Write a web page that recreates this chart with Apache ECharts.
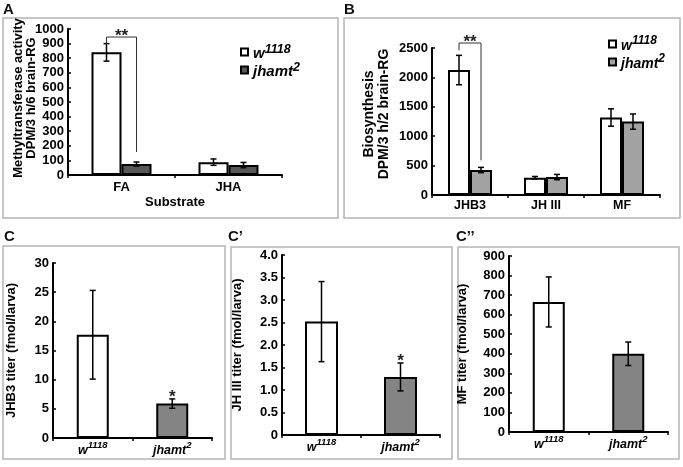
<!DOCTYPE html>
<html>
<head>
<meta charset="utf-8">
<script src="https://cdn.jsdelivr.net/npm/echarts@6/dist/echarts.min.js"></script>
<style>
html,body{margin:0;padding:0;background:#fff;}
#c{width:683px;height:467px;}
</style>
</head>
<body>
<div id="c"></div>
<script>
// ---------- data ----------
const substrates = ['FA', 'JHA'];
const activityW1118 = [840, 88];
const activityW1118Err = [60, 22];
const activityJhamt2 = [75, 68];
const activityJhamt2Err = [14, 18];

const compounds = ['JHB3', 'JH III', 'MF'];
const synthW1118 = [2125, 295, 1318];
const synthW1118Err = [250, 20, 148];
const synthJhamt2 = [425, 305, 1248];
const synthJhamt2Err = [45, 45, 130];

const genotypes = ['w1118', 'jhamt2'];
const titerJHB3 = [17.7, 5.9];
const titerJHB3Err = [7.6, 0.8];
const titerJHIII = [2.52, 1.29];
const titerJHIIIErr = [0.89, 0.31];
const titerMF = [665, 400];
const titerMFErr = [128, 60];

const yTicksA = {max: 1000, interval: 100};
const yTicksB = {max: 2500, interval: 500};
const yTicksC = {max: 30, interval: 5};
const yTicksC1 = {max: 4, interval: 0.5};
const yTicksC2 = {max: 900, interval: 100};

// significance annotations (bracket level in data units)
const sigA = {cat: 0, level: 945, text: '**'};
const sigB = {cat: 0, level: 2585, text: '**'};
const starC = {cat: 1, text: '*'};
const starC1 = {cat: 1, text: '*'};

// ---------- styles ----------
const FONT = '"Liberation Sans", Arial, Helvetica, sans-serif';
const BLACK = '#000';

const chart = echarts.init(document.getElementById('c'), null, {renderer: 'canvas'});

const grids = [
  {left: 68, top: 29, width: 214, height: 146},
  {left: 432, top: 48, width: 228, height: 147},
  {left: 53, top: 263, width: 159, height: 175},
  {left: 282, top: 255, width: 158, height: 180},
  {left: 509, top: 256, width: 159, height: 176}
];

const supRich = {
  i: {fontFamily: FONT, fontSize: 12.5, fontWeight: 'bold', fontStyle: 'italic', color: BLACK, lineHeight: 17, verticalAlign: 'bottom'},
  s: {fontFamily: FONT, fontSize: 9.5, fontWeight: 'bold', fontStyle: 'italic', color: BLACK, lineHeight: 10, verticalAlign: 'top'}
};
function genoLabel(name) {
  if (name.indexOf('w1118') >= 0) return '{i|w}{s|1118}';
  return '{i|jhamt}{s|2}';
}

function xAxisCfg(gi, cats, opts) {
  return Object.assign({
    type: 'category', gridIndex: gi, data: cats,
    axisLine: {lineStyle: {color: BLACK, width: 2}},
    axisTick: {show: true, length: 3, lineStyle: {color: BLACK, width: 1.5}},
    axisLabel: {color: BLACK, fontFamily: FONT, fontWeight: 'bold', fontSize: 13, margin: 6, interval: 0},
    splitLine: {show: false}
  }, opts || {});
}
function yAxisCfg(gi, t, name, gap, fs, lh, fmt, pad) {
  return {
    type: 'value', gridIndex: gi, min: 0, max: t.max, interval: t.interval,
    name: name, nameLocation: 'middle', nameGap: gap, nameRotate: 90, nameMoveOverlap: false,
    nameTextStyle: {color: BLACK, fontFamily: FONT, fontWeight: 'bold', fontSize: fs, lineHeight: lh, padding: pad || 0},
    axisLine: {show: true, lineStyle: {color: BLACK, width: 2}},
    axisTick: {show: true, inside: true, length: 3, lineStyle: {color: BLACK, width: 1.5}},
    axisLabel: {color: BLACK, fontFamily: FONT, fontWeight: 'bold', fontSize: 13, margin: 4,
      formatter: fmt || (v => String(v))},
    splitLine: {show: false}
  };
}

function barSeries(gi, name, data, color, width) {
  return {
    type: 'bar', name: name, xAxisIndex: gi, yAxisIndex: gi, data: data,
    barWidth: width, barGap: '0%',
    itemStyle: {color: color, borderColor: BLACK, borderWidth: 2},
    emphasis: {disabled: true}, silent: true
  };
}
function errSeries(gi, means, errs, offset) {
  return {
    type: 'custom', xAxisIndex: gi, yAxisIndex: gi, z: 10, silent: true,
    data: means.map((m, i) => [i, m, errs[i]]),
    encode: {x: 0, y: 1},
    renderItem: function (params, api) {
      const i = api.value(0), m = api.value(1), e = api.value(2);
      const p = api.coord([i, m + e]);
      const q = api.coord([i, m - e]);
      const x = p[0] + offset;
      const cap = 3;
      const st = {stroke: BLACK, lineWidth: 1.5};
      return {type: 'group', children: [
        {type: 'line', shape: {x1: x, y1: p[1], x2: x, y2: q[1]}, style: st},
        {type: 'line', shape: {x1: x - cap, y1: p[1], x2: x + cap, y2: p[1]}, style: st},
        {type: 'line', shape: {x1: x - cap, y1: q[1], x2: x + cap, y2: q[1]}, style: st}
      ]};
    }
  };
}
function bracketSeries(gi, sig, leftTop, rightTop, half, leftGap, rightGap) {
  return {
    type: 'custom', xAxisIndex: gi, yAxisIndex: gi, z: 11, silent: true, clip: false,
    data: [[sig.cat, sig.level, leftTop, rightTop]],
    encode: {x: 0, y: 1},
    renderItem: function (params, api) {
      const c = api.value(0);
      const top = api.coord([c, api.value(1)]);
      const lt = api.coord([c, api.value(2)]);
      const rt = api.coord([c, api.value(3)]);
      const xl = top[0] - half, xr = top[0] + half;
      return {type: 'group', children: [
        {type: 'polyline', shape: {points: [[xl, lt[1] - leftGap], [xl, top[1]], [xr, top[1]], [xr, rt[1] - rightGap]]},
          style: {stroke: '#333', lineWidth: 1, fill: null}},
        {type: 'text', x: top[0], y: top[1] - 1,
          style: {text: sig.text, fontFamily: FONT, fontWeight: 'bold', fontSize: 17, fill: '#222', align: 'center', verticalAlign: 'middle'}}
      ]};
    }
  };
}
function starSeries(gi, star, means, errs) {
  return {
    type: 'custom', xAxisIndex: gi, yAxisIndex: gi, z: 11, silent: true, clip: false,
    data: [[star.cat, means[star.cat] + errs[star.cat]]],
    encode: {x: 0, y: 1},
    renderItem: function (params, api) {
      const p = api.coord([api.value(0), api.value(1)]);
      return {type: 'text', x: p[0], y: p[1] - 2,
        style: {text: star.text, fontFamily: FONT, fontWeight: 'bold', fontSize: 17, fill: '#222', align: 'center', verticalAlign: 'middle'}};
    }
  };
}

const GRAY_A = '#575757';
const GRAY_B = '#a3a3a3';
const GRAY_C = '#848484';

function singleBars(vals) {
  return vals.map((v, i) => ({value: v, itemStyle: {color: i === 0 ? '#fff' : GRAY_C}}));
}

const genoAxisLabel = {
  color: BLACK, margin: 2, interval: 0, hideOverlap: false,
  formatter: v => genoLabel(v),
  rich: supRich
};

const boxStyle = {stroke: '#b4b4b4', lineWidth: 1.5, fill: 'none'};
const panelText = (x, y, t) => ({type: 'text', left: x, top: y,
  style: {text: t, fontFamily: FONT, fontWeight: 'bold', fontSize: 15, fill: '#111'}});

function legendRich(mainSize, supSize) {
  return {
    i: {fontFamily: FONT, fontSize: mainSize, fontWeight: 'bold', fontStyle: 'italic', color: BLACK, lineHeight: 18, verticalAlign: 'bottom'},
    s: {fontFamily: FONT, fontSize: supSize, fontWeight: 'bold', fontStyle: 'italic', color: BLACK, lineHeight: 12, verticalAlign: 'top'}
  };
}

const option = {
  animation: false,
  backgroundColor: '#fff',
  grid: grids,
  legend: [
    {left: 235, top: 38, orient: 'vertical', icon: 'rect', itemWidth: 7, itemHeight: 7, itemGap: 0,
      data: ['A:w1118', 'A:jhamt2'], selectedMode: false,
      formatter: genoLabel, textStyle: {rich: legendRich(15, 12.5)}},
    {left: 603, top: 30, orient: 'vertical', icon: 'rect', itemWidth: 7, itemHeight: 7, itemGap: 0,
      data: ['B:w1118', 'B:jhamt2'], selectedMode: false,
      formatter: genoLabel, textStyle: {rich: legendRich(14, 12)}}
  ],
  xAxis: [
    xAxisCfg(0, substrates, {name: 'Substrate', nameLocation: 'middle', nameGap: 21, nameMoveOverlap: false,
      nameTextStyle: {color: BLACK, fontFamily: FONT, fontWeight: 'bold', fontSize: 13}}),
    xAxisCfg(1, compounds, {axisLabel: {color: BLACK, fontFamily: FONT, fontWeight: 'bold', fontSize: 12.5, margin: 4, interval: 0}}),
    xAxisCfg(2, genotypes, {axisLabel: genoAxisLabel}),
    xAxisCfg(3, genotypes, {axisLabel: genoAxisLabel}),
    xAxisCfg(4, genotypes, {axisLabel: genoAxisLabel})
  ],
  yAxis: [
    yAxisCfg(0, yTicksA, 'Methyltransferase activity\nDPM/3 h/6 brain-RG', 30, 13, 13, null, [0, 0, 0, 8]),
    yAxisCfg(1, yTicksB, 'Biosynthesis\nDPM/3 h/2 brain-RG', 40, 14, 15, null, [0, 0, 0, 15]),
    yAxisCfg(2, yTicksC, 'JHB3 titer (fmol/larva)', 34, 13, 15),
    yAxisCfg(3, yTicksC1, 'JH III titer (fmol/larva)', 37, 13, 15, v => (v === 0 ? '0' : v.toFixed(1))),
    yAxisCfg(4, yTicksC2, 'MF titer (fmol/larva)', 39, 13, 15)
  ],
  series: [
    barSeries(0, 'A:w1118', activityW1118, '#fff', 30),
    barSeries(0, 'A:jhamt2', activityJhamt2, GRAY_A, 30),
    errSeries(0, activityW1118, activityW1118Err, -15),
    errSeries(0, activityJhamt2, activityJhamt2Err, 15),
    bracketSeries(0, sigA, activityW1118[0] + activityW1118Err[0], activityJhamt2[0] + activityJhamt2Err[0], 15, 0, 10),

    barSeries(1, 'B:w1118', synthW1118, '#fff', 22),
    barSeries(1, 'B:jhamt2', synthJhamt2, GRAY_B, 22),
    errSeries(1, synthW1118, synthW1118Err, -11),
    errSeries(1, synthJhamt2, synthJhamt2Err, 11),
    bracketSeries(1, sigB, synthW1118[0] + synthW1118Err[0], synthJhamt2[0] + synthJhamt2Err[0], 11, 5, 7),

    barSeries(2, 'C', singleBars(titerJHB3), '#fff', 32),
    errSeries(2, titerJHB3, titerJHB3Err, 0),
    starSeries(2, starC, titerJHB3, titerJHB3Err),

    barSeries(3, 'C1', singleBars(titerJHIII), '#fff', 33),
    errSeries(3, titerJHIII, titerJHIIIErr, 0),
    starSeries(3, starC1, titerJHIII, titerJHIIIErr),

    barSeries(4, 'C2', singleBars(titerMF), '#fff', 32),
    errSeries(4, titerMF, titerMFErr, 0)
  ],
  graphic: [
    {type: 'rect', shape: {x: 3, y: 18, width: 335, height: 200}, style: boxStyle, silent: true},
    {type: 'rect', shape: {x: 344, y: 18, width: 336, height: 200}, style: boxStyle, silent: true},
    {type: 'rect', shape: {x: 3, y: 246, width: 222, height: 213}, style: boxStyle, silent: true},
    {type: 'rect', shape: {x: 231, y: 247, width: 221, height: 212}, style: boxStyle, silent: true},
    {type: 'rect', shape: {x: 458, y: 247, width: 221, height: 212}, style: boxStyle, silent: true},
    panelText(3, 2, 'A'),
    panelText(344, 2, 'B'),
    panelText(4, 229, 'C'),
    panelText(228, 229, 'C\u2019'),
    panelText(456, 229, 'C\u2019\u2019')
  ]
};
chart.setOption(option);
</script>
</body>
</html>
